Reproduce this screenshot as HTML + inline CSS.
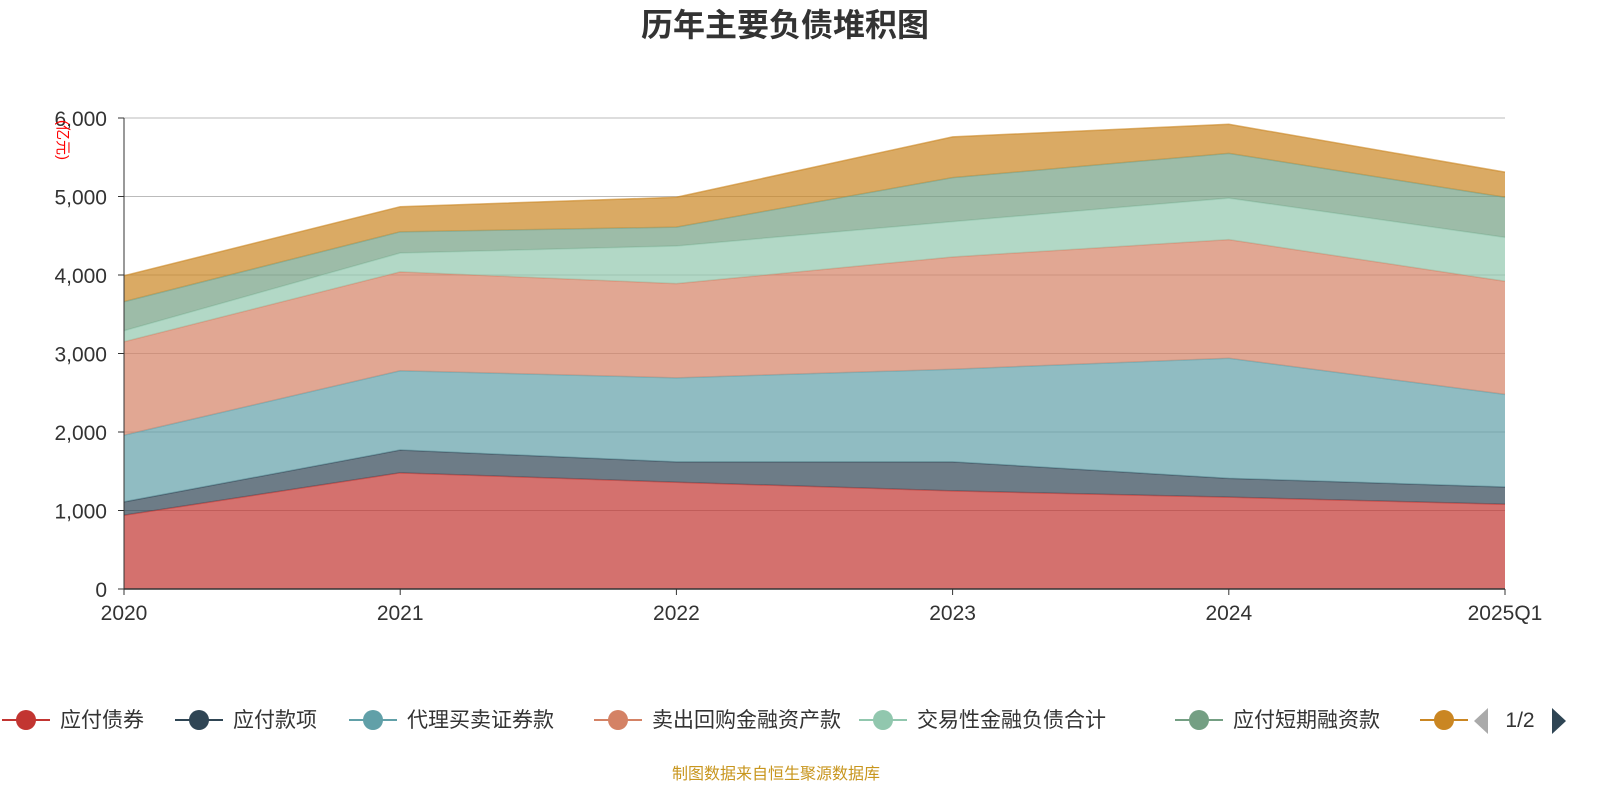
<!DOCTYPE html>
<html><head><meta charset="utf-8">
<style>
body{margin:0;background:#fff;font-family:"Liberation Sans","Noto Sans CJK SC",sans-serif;}
#wrap{position:relative;width:1600px;height:800px;overflow:hidden;}
</style></head>
<body>
<div id="wrap">
<svg id="chart" width="1600" height="800"></svg>
</div>
<script>
const categories = ["2020","2021","2022","2023","2024","2025Q1"];
const seriesNames = ["应付债券","应付款项","代理买卖证券款","卖出回购金融资产款","交易性金融负债合计","应付短期融资款","其他"];
const s1 = [940,1480,1360,1250,1170,1080];
const s2 = [170,290,260,370,240,220];
const s3 = [850,1010,1070,1180,1530,1180];
const s4 = [1190,1260,1200,1430,1510,1440];
const s5 = [140,240,480,450,530,560];
const s6 = [370,270,240,560,570,510];
const s7 = [330,320,380,520,370,320];
const seriesData = [s1,s2,s3,s4,s5,s6,s7];
const yTicks = [0,1000,2000,3000,4000,5000,6000];
const yTickLabels = ["0","1,000","2,000","3,000","4,000","5,000","6,000"];
const colors = ["#c23531","#2f4554","#61a0a8","#d48265","#91c7ae","#749f83","#ca8622"];

const NS="http://www.w3.org/2000/svg";
const svg=document.getElementById('chart');
const X0=124,X1=1505,Y0=589,Y1=118,YMAX=6000;
function xs(i){return X0+(X1-X0)*i/(categories.length-1);}
function ys(v){return Y0-(Y0-Y1)*v/YMAX;}
function mk(tag,attrs,parent){const e=document.createElementNS(NS,tag);for(const k in attrs)e.setAttribute(k,attrs[k]);(parent||svg).appendChild(e);return e;}

// title
let t=mk('text',{x:785,y:36,'text-anchor':'middle','font-size':32,'font-weight':'bold',fill:'#333'});
t.textContent='历年主要负债堆积图';



// grid
yTicks.forEach((v,i)=>{
  const g=mk('line',{x1:X0,x2:X1,y1:ys(v),y2:ys(v),stroke:'#bbb','stroke-width':1});
  
  
  const l=mk('text',{x:107,y:ys(v)+8,'text-anchor':'end','font-size':21,fill:'#333'});
  l.textContent=yTickLabels[i];
  
  
  const tk=mk('line',{x1:X0-6,x2:X0,y1:ys(v),y2:ys(v),stroke:'#333'});
  
  
});
let u=mk('text',{x:0,y:0,'font-size':15,fill:'red',transform:'translate(58,120) rotate(90)'});
u.textContent='(亿元)';



// areas
const cum=categories.map(()=>0);
seriesData.forEach((arr,si)=>{
  const lower=cum.slice();
  arr.forEach((v,i)=>cum[i]+=v);
  let d='';
  cum.forEach((v,i)=>{d+=(i?'L':'M')+xs(i)+','+ys(v);});
  for(let i=categories.length-1;i>=0;i--)d+='L'+xs(i)+','+ys(lower[i]);
  d+='Z';
  const a=mk('path',{d:d,fill:colors[si],'fill-opacity':0.7});
  
  
  let ld='';
  cum.forEach((v,i)=>{ld+=(i?'L':'M')+xs(i)+','+ys(v);});
  const ln=mk('path',{d:ld,fill:'none',stroke:colors[si],'stroke-width':1.5,'stroke-opacity':0.6});
  
  
});

// axes
let ax=mk('line',{x1:X0,x2:X0,y1:Y1,y2:Y0,stroke:'#333'});


let bx=mk('line',{x1:X0,x2:X1,y1:Y0,y2:Y0,stroke:'#333','stroke-width':1.5});


categories.forEach((c,i)=>{
  const tk=mk('line',{x1:xs(i),x2:xs(i),y1:Y0,y2:Y0+6,stroke:'#333'});
  
  
  const l=mk('text',{x:xs(i),y:620,'text-anchor':'middle','font-size':21,fill:'#333'});
  l.textContent=c;
  
  
});

// legend
const legX=[0,173,347,592,857,1173,1418];
seriesNames.forEach((n,i)=>{
  const g=mk('g',{});
  
  
  mk('line',{x1:legX[i]+2,x2:legX[i]+50,y1:720,y2:720,stroke:colors[i],'stroke-width':2},g);
  mk('circle',{cx:legX[i]+26,cy:720,r:10,fill:colors[i]},g);
  if(i<6){const tx=mk('text',{x:legX[i]+60,y:727,'font-size':21,fill:'#333'},g);tx.textContent=n;}
});
let pl=mk('polygon',{points:'1488,708 1488,734 1474,721',fill:'#aaa'});


let pt=mk('text',{x:1520,y:727,'text-anchor':'middle','font-size':21,fill:'#333'});
pt.textContent='1/2';


let pn=mk('polygon',{points:'1552,708 1552,734 1566,721',fill:'#2f4554'});



let src=mk('text',{x:776,y:779,'text-anchor':'middle','font-size':16,fill:'#c8961e'});
src.textContent='制图数据来自恒生聚源数据库';


</script>
</body></html>
